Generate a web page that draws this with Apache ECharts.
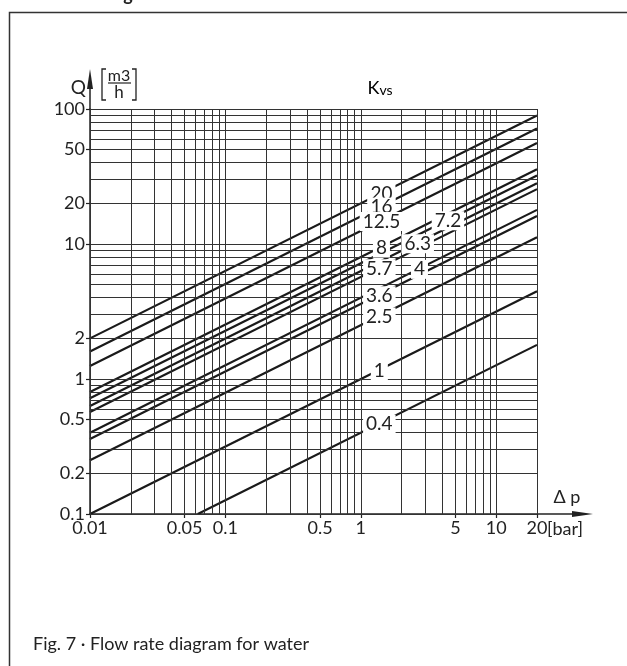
<!DOCTYPE html>
<html><head><meta charset="utf-8">
<script src="https://cdn.jsdelivr.net/npm/echarts@6/dist/echarts.min.js"></script>
<style>html,body{margin:0;padding:0;background:#fff;} #c{width:627px;height:666px;}</style>
</head><body><div id="c"></div>
<script>
// Kvs values and the end points of each line
const kvsValues = [20, 16, 12.5, 8, 7.2, 6.3, 5.7, 4, 3.6, 2.5, 1, 0.4];
const lineStart = [[0.01,2],[0.01,1.6],[0.01,1.25],[0.01,0.8],[0.01,0.72],[0.01,0.63],[0.01,0.57],[0.01,0.4],[0.01,0.36],[0.01,0.25],[0.01,0.1],[0.0625,0.1]];
const lineEnd = [[20,89.4],[20,71.6],[20,55.9],[20,35.8],[20,32.2],[20,28.2],[20,25.5],[20,17.9],[20,16.1],[20,11.2],[20,4.47],[20,1.79]];
// where each Kvs label sits on its line (data coordinates)
const labelAnchors = [[1.42,23.8],[1.42,19.1],[1.42,14.9],[1.42,9.5],[4.4,15.1],[2.63,10.2],[1.37,6.67],[2.71,6.6],[1.37,4.21],[1.37,2.93],[1.37,1.17],[1.37,0.47]];
// grid and tick values
const xGrid = [0.01,0.02,0.03,0.04,0.05,0.06,0.07,0.08,0.09,0.1,0.2,0.3,0.4,0.5,0.6,0.7,0.8,0.9,1,2,3,4,5,6,7,8,9,10,20];
const yGrid = [0.1,0.2,0.3,0.4,0.5,0.6,0.7,0.8,0.9,1,2,3,4,5,6,7,8,9,10,20,30,40,50,60,70,80,90,100];
const xTickLabels = [0.01,0.05,0.1,0.5,1,5,10,20];
const yTickLabels = [0.1,0.2,0.5,1,2,10,20,50,100];

const FONT = 'Lato';
const INK = '#222';
const chart = echarts.init(document.getElementById('c'), null, {renderer:'canvas'});

const series = [];
series.push({
  type:'line', data:[], silent:true, z:1,
  markLine:{
    silent:true, symbol:['none','none'], label:{show:false},
    lineStyle:{color:'#333', width:1, type:'solid'},
    emphasis:{disabled:true},
    data: xGrid.map(v=>({xAxis:v})).concat(yGrid.map(v=>({yAxis:v})))
  }
});
kvsValues.forEach((k,i)=>{
  series.push({
    type:'line', name:String(k), data:[lineStart[i], lineEnd[i]],
    symbol:'none', silent:true, z:3,
    lineStyle:{color:'#1a1a1a', width:2.2}
  });
});

chart.setOption({
  animation:false,
  grid:{left:90, right:90, top:109, bottom:152, containLabel:false},
  xAxis:{type:'log', logBase:10, min:0.01, max:20,
    axisLine:{show:true, lineStyle:{color:INK, width:1.5}},
    axisTick:{show:true, customValues:xTickLabels, length:4, inside:false, lineStyle:{color:INK, width:1.2}},
    axisLabel:{show:true, customValues:xTickLabels, color:INK, fontFamily:FONT, fontSize:18, margin:5,
      formatter:v=>String(+v.toPrecision(3))},
    splitLine:{show:false}, minorTick:{show:false}},
  yAxis:{type:'log', logBase:10, min:0.1, max:100,
    axisLine:{show:true, lineStyle:{color:INK, width:1.5}},
    axisTick:{show:true, customValues:yTickLabels, length:4, lineStyle:{color:INK, width:1.2}},
    axisLabel:{show:true, customValues:yTickLabels, color:INK, fontFamily:FONT, fontSize:18, margin:5,
      formatter:v=>String(+v.toPrecision(3))},
    splitLine:{show:false}},
  series: series
});

const p0 = chart.convertToPixel({gridIndex:0}, [0.01, 0.1]);
const p1 = chart.convertToPixel({gridIndex:0}, [20, 100]);
const ax = p0[0], ay = p0[1], rx = p1[0], ty = p1[1];

const kvsLabelGraphics = labelAnchors.map((p,i)=>{
  const px = chart.convertToPixel({gridIndex:0}, p);
  return {type:'text', z:50, silent:true, style:{text:String(kvsValues[i]), x:px[0], y:px[1]+1,
    align:'center', verticalAlign:'middle', font:'19px '+FONT, fill:INK,
    backgroundColor:'#fff', padding:[0,3,0,3]}};
});

chart.setOption({graphic:[
  // frame
  {type:'polyline', shape:{points:[[9.5,666],[9.5,12.5],[627,12.5]]}, style:{stroke:'#333', lineWidth:1.5, fill:null}, silent:true},
  // cut-off heading glyph above the frame
  {type:'text', style:{text:'g', x:128, y:-14, align:'center', verticalAlign:'top', font:'bold 18px '+FONT, fill:INK}},
  // y axis arrow
  {type:'line', shape:{x1:ax, y1:ty, x2:ax, y2:ty-30}, style:{stroke:INK, lineWidth:1.5}},
  {type:'polygon', shape:{points:[[ax,ty-40],[ax-3,ty-20],[ax+3,ty-20]]}, style:{fill:INK}},
  // x axis arrow
  {type:'line', shape:{x1:rx, y1:ay, x2:rx+45, y2:ay}, style:{stroke:INK, lineWidth:1.5}},
  {type:'polygon', shape:{points:[[rx+56,ay],[rx+35,ay-3],[rx+35,ay+3]]}, style:{fill:INK}},
  // Q [m3/h]
  {type:'text', style:{text:'Q', x:ax-4, y:ty-21, align:'right', verticalAlign:'middle', font:'19px '+FONT, fill:INK}},
  {type:'polyline', shape:{points:[[ax+16,ty-40],[ax+12,ty-40],[ax+12,ty-9],[ax+16,ty-9]]}, style:{stroke:INK, lineWidth:1.3, fill:null}},
  {type:'polyline', shape:{points:[[ax+42,ty-40],[ax+46,ty-40],[ax+46,ty-9],[ax+42,ty-9]]}, style:{stroke:INK, lineWidth:1.3, fill:null}},
  {type:'text', style:{text:'m3', x:ax+29, y:ty-33, align:'center', verticalAlign:'middle', font:'16px '+FONT, fill:INK}},
  {type:'line', shape:{x1:ax+18, y1:ty-26, x2:ax+41, y2:ty-26}, style:{stroke:INK, lineWidth:1.2}},
  {type:'text', style:{text:'h', x:ax+29, y:ty-16, align:'center', verticalAlign:'middle', font:'17px '+FONT, fill:INK}},
  // Kvs
  {type:'text', style:{text:'{a|K}{b|vs}', x:380, y:ty-21, align:'center', verticalAlign:'middle',
    rich:{a:{fontSize:18, fontFamily:FONT, color:INK}, b:{fontSize:14, fontFamily:FONT, color:INK, padding:[4,0,0,0]}}}},
  // Delta p
  {type:'text', style:{text:'Δ p', x:rx+30, y:ay-17, align:'center', verticalAlign:'middle', font:'18px '+FONT, fill:INK}},
  // [bar]
  {type:'text', style:{text:'[bar]', x:rx+10, y:ay+15, align:'left', verticalAlign:'middle', font:'18px '+FONT, fill:INK}},
  // caption
  {type:'text', style:{text:'Fig. 7 · Flow rate diagram for water', x:33, y:644, align:'left', verticalAlign:'middle', font:'18px '+FONT, fill:INK}}
].concat(kvsLabelGraphics)});
</script></body></html>
